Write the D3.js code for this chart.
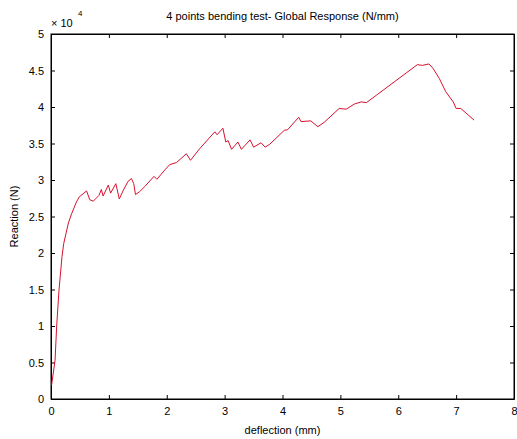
<!DOCTYPE html>
<html>
<head>
<meta charset="utf-8">
<script src="https://cdn.jsdelivr.net/npm/d3@7"></script>
<style>
  body { margin: 0; background: #fff; }
  svg text { font-family: "Liberation Sans", Arial, sans-serif; font-size: 11px; fill: #000; }
</style>
</head>
<body>
<svg id="chart"></svg>
<script>
// deflection (mm)
const deflection = [0.01, 0.07, 0.098, 0.138, 0.19, 0.22, 0.26, 0.30, 0.357, 0.44, 0.49, 0.615, 0.67, 0.73,
  0.83, 0.87, 0.90, 0.99, 1.03, 1.12, 1.18, 1.25, 1.33, 1.39, 1.43, 1.46, 1.53, 1.62, 1.78, 1.83,
  1.97, 2.05, 2.17, 2.34, 2.41, 2.57, 2.83, 2.87, 2.97, 3.02, 3.06, 3.12, 3.23, 3.29, 3.44, 3.50,
  3.63, 3.70, 3.78, 4.03, 4.09, 4.28, 4.32, 4.49, 4.61, 4.72, 4.98, 5.10, 5.24, 5.36, 5.45, 5.62,
  6.33, 6.42, 6.53, 6.60, 6.71, 6.82, 6.95, 7.00, 7.08, 7.31];
// reaction (x 1e4 N)
const reaction = [0.19, 0.53, 1.0, 1.49, 1.95, 2.13, 2.27, 2.41, 2.54, 2.70, 2.77, 2.85, 2.73, 2.71,
  2.79, 2.87, 2.78, 2.93, 2.82, 2.95, 2.74, 2.86, 2.98, 3.02, 2.95, 2.80, 2.84, 2.91, 3.05, 3.01,
  3.14, 3.21, 3.24, 3.36, 3.27, 3.43, 3.66, 3.62, 3.71, 3.52, 3.54, 3.42, 3.52, 3.42, 3.55, 3.45,
  3.51, 3.45, 3.49, 3.68, 3.69, 3.86, 3.80, 3.81, 3.73, 3.79, 3.98, 3.97, 4.04, 4.07, 4.06, 4.16,
  4.58, 4.57, 4.59, 4.53, 4.39, 4.21, 4.07, 3.98, 3.98, 3.82];

const xTicks = [0, 1, 2, 3, 4, 5, 6, 7, 8];
const yTicks = [0, 0.5, 1, 1.5, 2, 2.5, 3, 3.5, 4, 4.5, 5];

const width = 517, height = 439;
const margin = { top: 34, right: 3, bottom: 40, left: 51 };
const w = width - margin.left - margin.right;
const h = height - margin.top - margin.bottom;

const svg = d3.select("#chart").attr("width", width).attr("height", height);
const g = svg.append("g").attr("transform", `translate(${margin.left},${margin.top})`);

const x = d3.scaleLinear().domain([0, 8]).range([0, w]);
const y = d3.scaleLinear().domain([0, 5]).range([h, 0]);

const tick = 4;
const fmt = d => String(d);

// axes with inward ticks
g.append("g").attr("transform", `translate(0,${h})`)
  .call(d3.axisBottom(x).tickValues(xTicks).tickFormat(fmt).tickSizeInner(-tick).tickSizeOuter(0).tickPadding(8));
g.append("g")
  .call(d3.axisTop(x).tickValues(xTicks).tickFormat("").tickSizeInner(-tick).tickSizeOuter(0));
g.append("g")
  .call(d3.axisLeft(y).tickValues(yTicks).tickFormat(fmt).tickSizeInner(-tick).tickSizeOuter(0).tickPadding(7));
g.append("g").attr("transform", `translate(${w},0)`)
  .call(d3.axisRight(y).tickValues(yTicks).tickFormat("").tickSizeInner(-tick).tickSizeOuter(0));

g.selectAll(".domain").attr("stroke", "#000");
g.selectAll(".tick line").attr("stroke", "#000");
g.selectAll(".tick text").style("font-size", "11px");

g.append("rect").attr("width", w).attr("height", h)
  .attr("fill", "none").attr("stroke", "#000").attr("stroke-width", 1);

// data line
const pts = deflection.map((d, i) => [d, reaction[i]]);
g.append("path")
  .attr("d", d3.line().x(d => x(d[0])).y(d => y(d[1]))(pts))
  .attr("fill", "none")
  .attr("stroke", "#d8112e")
  .attr("stroke-width", 1);

// title and labels
svg.append("text").attr("x", margin.left + w / 2).attr("y", 20)
  .attr("text-anchor", "middle").text("4 points bending test- Global Response (N/mm)");
svg.append("text").attr("x", margin.left + w / 2).attr("y", 434)
  .attr("text-anchor", "middle").text("deflection (mm)");
svg.append("text").attr("transform", `translate(18,${margin.top + h / 2}) rotate(-90)`)
  .attr("text-anchor", "middle").text("Reaction (N)");

// exponent
const ex = svg.append("text").attr("x", 51).attr("y", 27);
ex.append("tspan").text("\u00d7 10");
svg.append("text").attr("x", 78).attr("y", 16).style("font-size", "8px").text("4");
</script>
</body>
</html>
